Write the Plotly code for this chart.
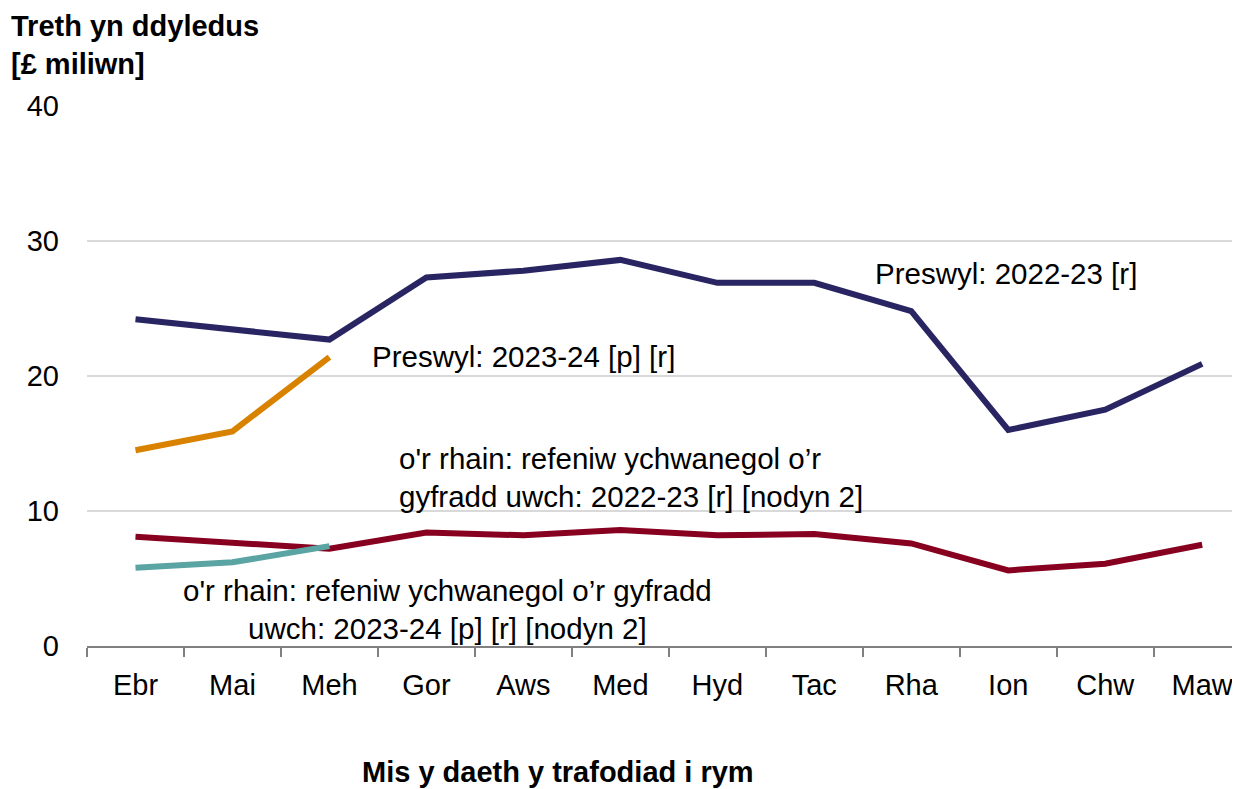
import plotly.graph_objects as go

months = ["Ebr", "Mai", "Meh", "Gor", "Aws", "Med", "Hyd", "Tac", "Rha", "Ion", "Chw", "Maw"]
res_2223 = [24.2, 23.5, 22.7, 27.3, 27.8, 28.6, 26.9, 26.9, 24.8, 16.0, 17.5, 20.9]
res_2324 = [14.5, 15.9, 21.4]
high_2223 = [8.1, 7.7, 7.2, 8.4, 8.2, 8.6, 8.2, 8.3, 7.6, 5.6, 6.1, 7.5]
high_2324 = [5.8, 6.2, 7.4]

FONT = "Liberation Sans, Arial, sans-serif"
LW = 6
fig = go.Figure()
fig.add_trace(go.Scatter(x=months, y=res_2223, mode="lines",
                         line=dict(color="#282562", width=LW)))
fig.add_trace(go.Scatter(x=months[:3], y=res_2324, mode="lines",
                         line=dict(color="#D98200", width=LW)))
fig.add_trace(go.Scatter(x=months, y=high_2223, mode="lines",
                         line=dict(color="#870020", width=LW)))
fig.add_trace(go.Scatter(x=months[:3], y=high_2324, mode="lines",
                         line=dict(color="#5BA4A4", width=LW)))

# page has an 8px body margin: figure occupies page (8..1240, 8..789)
OFF = 8
W, H = 1240 - OFF, 789 - OFF
L, R, T, B = 87 - OFF, 0, 106 - OFF, H - (646 - OFF)

def px_x(p):
    return (p - OFF - L) / (W - L - R)

def px_y(p):
    return 1 - (p - OFF - T) / (H - T - B)

fs = 29
afs = 29.5
anns = [
    dict(text="Preswyl: 2022-23 [r]", x=px_x(873), y=px_y(273), xanchor="left", align="left", s=afs),
    dict(text="Preswyl: 2023-24 [p] [r]", x=px_x(370), y=px_y(356), xanchor="left", align="left", s=afs),
    dict(text="o'r rhain: refeniw ychwanegol o’r<br>gyfradd uwch: 2022-23 [r] [nodyn 2]",
         x=px_x(397), y=px_y(477), xanchor="left", align="left", s=afs),
    dict(text="o'r rhain: refeniw ychwanegol o’r gyfradd<br>uwch: 2023-24 [p] [r] [nodyn 2]",
         x=px_x(447), y=px_y(609), xanchor="center", align="center", s=afs),
    dict(text="<b>Treth yn ddyledus<br>[£ miliwn]</b>", x=px_x(9), y=px_y(45),
         xanchor="left", align="left", s=fs),
    dict(text="<b>Mis y daeth y trafodiad i rym</b>", x=px_x(558), y=px_y(772),
         xanchor="center", align="center", s=fs),
]
annotations = []
for a in anns:
    s = a.pop("s")
    a.update(xref="paper", yref="paper", yanchor="middle", showarrow=False,
             font=dict(family=FONT, size=s, color="#000000"))
    annotations.append(a)

fig.update_layout(
    width=W, height=H,
    margin=dict(l=L, r=R, t=T, b=B, pad=0),
    paper_bgcolor="white", plot_bgcolor="white",
    showlegend=False,
    font=dict(family=FONT, size=fs, color="#000000"),
    annotations=annotations,
    xaxis=dict(type="category", range=[-0.5, 11.39], tickson="boundaries",
               ticks="outside", ticklen=9, tickcolor="#808080", tickwidth=2,
               showline=True, linecolor="#808080", linewidth=2,
               showgrid=False, zeroline=False, ticklabelstandoff=12,
               tickfont=dict(family=FONT, size=fs, color="#000000")),
    yaxis=dict(range=[0, 40], tickvals=[0, 10, 20, 30, 40],
               showgrid=True, gridcolor="#D9D9D9", gridwidth=2,
               zeroline=False, showline=False, ticks="",
               ticklabelstandoff=27,
               tickfont=dict(family=FONT, size=fs, color="#000000")),
)

fig.write_html("out.html")
